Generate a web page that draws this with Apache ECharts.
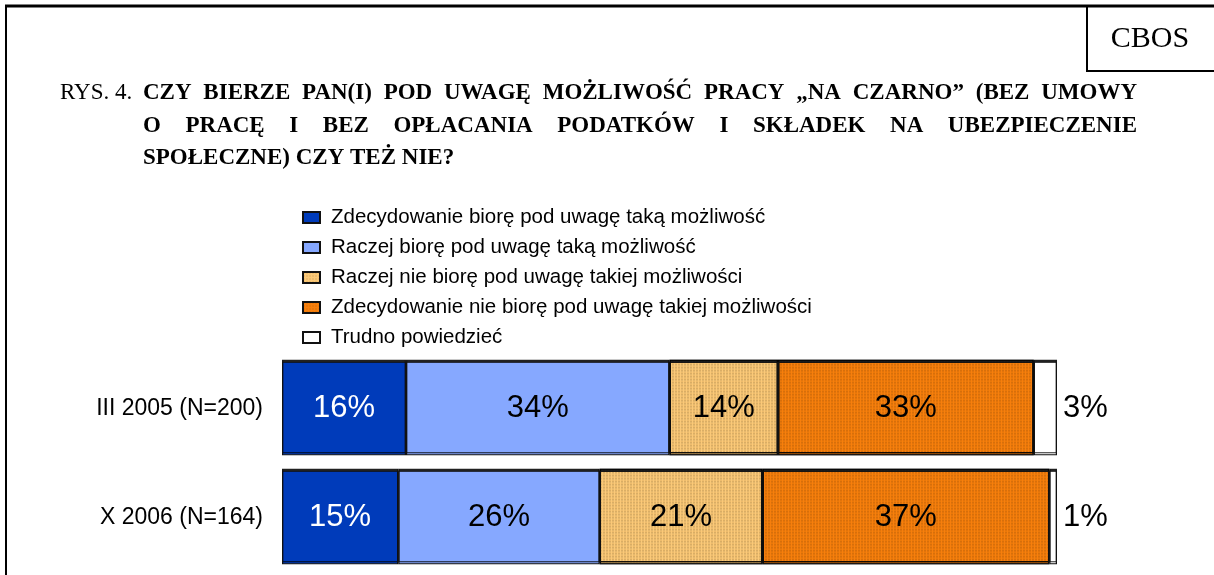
<!DOCTYPE html>
<html>
<head>
  <meta charset="utf-8">
  <title>CBOS RYS. 4</title>
  <script src="https://cdn.jsdelivr.net/npm/echarts@6/dist/echarts.min.js"></script>
  <style>
    html, body { margin: 0; padding: 0; background: #fff; }
    #main { width: 1214px; height: 575px; }
  </style>
</head>
<body>
  <div id="main"></div>
  <script type="text/javascript">
    // dane
    var categories = ['III 2005 (N=200)', 'X 2006 (N=164)'];
    var seriesNames = [
      'Zdecydowanie biorę pod uwagę taką możliwość',
      'Raczej biorę pod uwagę taką możliwość',
      'Raczej nie biorę pod uwagę takiej możliwości',
      'Zdecydowanie nie biorę pod uwagę takiej możliwości',
      'Trudno powiedzieć'
    ];
    var zdecydowanieTak = [16, 15];
    var raczejTak = [34, 26];
    var raczejNie = [14, 21];
    var zdecydowanieNie = [33, 37];
    var trudno = [3, 1];

    var titleLines = [
      'CZY BIERZE PAN(I) POD UWAGĘ MOŻLIWOŚĆ PRACY „NA CZARNO” (BEZ UMOWY',
      'O PRACĘ I BEZ OPŁACANIA PODATKÓW I SKŁADEK NA UBEZPIECZENIE',
      'SPOŁECZNE) CZY TEŻ NIE?'
    ];

    var serifFont = '"Liberation Serif", "Times New Roman", serif';
    var sansFont = '"Liberation Sans", Arial, sans-serif';

    // wyjustowanie tytułu jak w oryginale (linie 1-2)
    var ctx = document.createElement('canvas').getContext('2d');
    var titleSize = 23;
    var titleFont = 'bold ' + titleSize + 'px ' + serifFont;
    ctx.font = titleFont;
    var textLeft = 143, textRight = 1137;
    var lineY = [93, 126, 158];
    var graphics = [];

    titleLines.forEach(function (line, li) {
      if (li === titleLines.length - 1) {
        graphics.push({
          type: 'text', x: textLeft, y: lineY[li],
          style: { text: line, font: titleFont, fill: '#000', verticalAlign: 'middle' }
        });
        return;
      }
      var words = line.split(' ');
      var widths = words.map(function (w) { return ctx.measureText(w).width; });
      var total = widths.reduce(function (a, b) { return a + b; }, 0);
      var gap = (textRight - textLeft - total) / (words.length - 1);
      var x = textLeft;
      words.forEach(function (w, i) {
        graphics.push({
          type: 'text', x: x, y: lineY[li],
          style: { text: w, font: titleFont, fill: '#000', verticalAlign: 'middle' }
        });
        x += widths[i] + gap;
      });
    });

    graphics.push(
      { type: 'text', x: 60, y: lineY[0],
        style: { text: 'RYS. 4.', font: titleSize + 'px ' + serifFont, fill: '#000', verticalAlign: 'middle' } },
      // ramka
      { type: 'line', shape: { x1: 5, y1: 6, x2: 1214, y2: 6 }, style: { stroke: '#000', lineWidth: 3 } },
      { type: 'line', shape: { x1: 6, y1: 5, x2: 6, y2: 575 }, style: { stroke: '#000', lineWidth: 2 } },
      { type: 'line', shape: { x1: 1087, y1: 5, x2: 1087, y2: 72 }, style: { stroke: '#000', lineWidth: 2 } },
      { type: 'line', shape: { x1: 1087, y1: 71, x2: 1214, y2: 71 }, style: { stroke: '#000', lineWidth: 2 } },
      { type: 'text', x: 1150, y: 39,
        style: { text: 'CBOS', font: '30px ' + serifFont, fill: '#000', align: 'center', verticalAlign: 'middle' } }
    );

    var dots = {
      symbol: 'rect',
      symbolSize: 0.5,
      dashArrayX: [2, 1],
      dashArrayY: [2, 1],
      color: 'rgba(110, 60, 0, 0.35)'
    };

    function makeSeries(name, values, color, labelColor, extra) {
      var s = {
        name: name,
        type: 'bar',
        stack: 'all',
        barWidth: '86%',
        data: values,
        itemStyle: {
          color: color,
          borderColor: '#111',
          borderWidth: 1.2,
          shadowColor: 'rgba(0,0,0,0.85)',
          shadowOffsetY: -2,
          shadowBlur: 0
        },
        label: {
          show: true,
          position: 'inside',
          formatter: '{c}%',
          fontFamily: sansFont,
          fontSize: 31,
          color: labelColor
        }
      };
      if (extra) {
        if (extra.decal) s.itemStyle.decal = extra.decal;
        if (extra.label) Object.assign(s.label, extra.label);
      }
      return s;
    }

    var myChart = echarts.init(document.getElementById('main'));
    var option = {
      backgroundColor: '#fff',
      animation: false,
      graphic: graphics,
      legend: {
        orient: 'vertical',
        left: 297,
        top: 202,
        itemWidth: 17,
        itemHeight: 11,
        itemGap: 9,
        icon: 'rect',
        itemStyle: { shadowColor: 'transparent' },
        textStyle: { fontFamily: sansFont, fontSize: 20.5, color: '#000', padding: [0, 0, 0, 6] },
        data: seriesNames
      },
      grid: { left: 282, right: 157, top: 354, bottom: 3 },
      xAxis: { type: 'value', min: 0, max: 100, show: false },
      yAxis: {
        type: 'category',
        inverse: true,
        data: categories,
        axisLine: { show: false },
        axisTick: { show: false },
        axisLabel: { fontFamily: sansFont, fontSize: 23, color: '#000', margin: 19 }
      },
      series: [
        makeSeries(seriesNames[0], zdecydowanieTak, '#003BBA', '#fff'),
        makeSeries(seriesNames[1], raczejTak, '#86A8FF', '#000'),
        makeSeries(seriesNames[2], raczejNie, '#FBC978', '#000', { decal: dots }),
        makeSeries(seriesNames[3], zdecydowanieNie, '#F77F0C', '#000', { decal: dots }),
        makeSeries(seriesNames[4], trudno, '#fff', '#000', { label: { position: 'right', distance: 6 } })
      ]
    };
    myChart.setOption(option);
  </script>
</body>
</html>
